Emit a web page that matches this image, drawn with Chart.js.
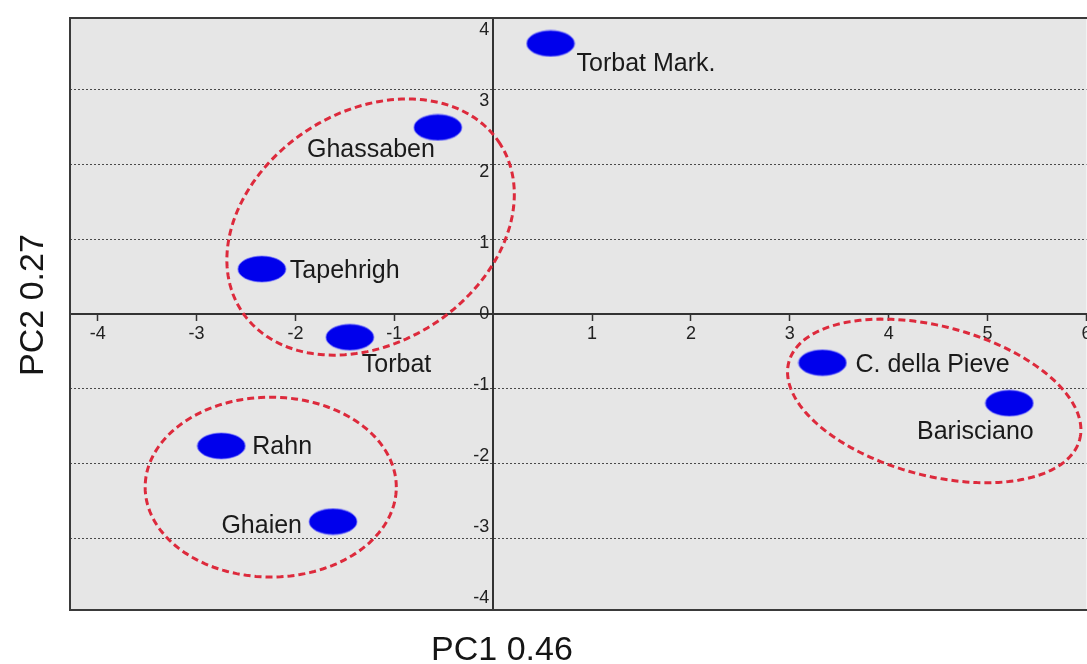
<!DOCTYPE html>
<html>
<head>
<meta charset="utf-8">
<script src="https://cdn.jsdelivr.net/npm/chart.js@4.4.1/dist/chart.umd.min.js"></script>
<style>
html,body{margin:0;padding:0;background:#ffffff;}
canvas{display:block;}
</style>
</head>
<body>
<canvas id="c" width="1087" height="664"></canvas>
<script>
// ---- data ----
const categories = ['Torbat Mark.', 'Ghassaben', 'Tapehrigh', 'Torbat', 'C. della Pieve', 'Barisciano', 'Rahn', 'Ghaien'];
const pc1Values = [0.58, -0.56, -2.34, -1.45, 3.33, 5.22, -2.75, -1.62];
const pc2Values = [3.61, 2.49, 0.60, -0.31, -0.65, -1.19, -1.76, -2.77];
const xTickValues = [-4, -3, -2, -1, 1, 2, 3, 4, 5, 6];
const yTickValues = [-4, -3, -2, -1, 0, 1, 2, 3, 4];
const yGridValues = [-3, -2, -1, 0, 1, 2, 3];
const xAxisTitle = 'PC1 0.46';
const yAxisTitle = 'PC2 0.27';
// group ellipses (data units): centre and two semi-axis vectors
const groupCenterX = [-1.24, -2.25, 4.46];
const groupCenterY = [1.16, -2.31, -1.16];
const groupAxisA = [[1.31, 1.11], [1.27, 0], [1.47, -0.52]];
const groupAxisB = [[-0.63, 1.30], [0, 1.20], [0.20, 0.96]];

// ---- styles ----
const FONT = '"Liberation Sans", Arial, sans-serif';
const labelPlacement = [
  {dx: 26, dy: 21, align: 'left'},
  {dx: -3, dy: 23, align: 'right'},
  {dx: 28, dy: 2, align: 'left'},
  {dx: 12, dy: 28, align: 'left'},
  {dx: 33, dy: 2, align: 'left'},
  {dx: -34, dy: 29, align: 'center'},
  {dx: 31, dy: 1, align: 'left'},
  {dx: -31, dy: 5, align: 'right'}
];

function makeMarker() {
  const cv = document.createElement('canvas');
  cv.width = 50; cv.height = 28;
  const g = cv.getContext('2d');
  g.beginPath();
  g.ellipse(25, 14, 24, 13, 0, 0, Math.PI * 2);
  g.fillStyle = '#0000ec';
  g.fill();
  g.lineWidth = 1;
  g.strokeStyle = 'rgba(110,110,255,0.7)';
  g.stroke();
  return cv;
}
const marker = makeMarker();

const zeroPadding = s => { s.paddingLeft = 0; s.paddingRight = 0; s.paddingTop = 0; s.paddingBottom = 0; };

const backgroundPlugin = {
  id: 'bg',
  beforeDraw(chart) {
    const {ctx, chartArea: a} = chart;
    ctx.save();
    ctx.fillStyle = '#ffffff';
    ctx.fillRect(0, 0, chart.width, chart.height);
    ctx.fillStyle = '#e6e6e6';
    ctx.fillRect(a.left, a.top, a.right - a.left, a.bottom - a.top);
    ctx.restore();
  },
  afterDraw(chart) {
    const {ctx, chartArea: a} = chart;
    ctx.save();
    ctx.strokeStyle = '#3a3a3a';
    ctx.lineWidth = 2;
    ctx.beginPath();
    ctx.moveTo(a.right + 2, a.top);
    ctx.lineTo(a.left, a.top);
    ctx.lineTo(a.left, a.bottom);
    ctx.lineTo(a.right + 2, a.bottom);
    ctx.stroke();
    // axis titles
    ctx.fillStyle = '#151515';
    ctx.font = '34px ' + FONT;
    ctx.textAlign = 'center';
    ctx.textBaseline = 'alphabetic';
    ctx.fillText(xAxisTitle, 502, 660);
    ctx.translate(43, 305);
    ctx.rotate(-Math.PI / 2);
    ctx.fillText(yAxisTitle, 0, 0);
    ctx.restore();
  }
};

const groupPlugin = {
  id: 'groups',
  beforeDatasetsDraw(chart) {
    const {ctx, chartArea: a} = chart;
    const xs = chart.scales.x, ys = chart.scales.y;
    ctx.save();
    ctx.beginPath();
    ctx.rect(a.left, a.top, a.right - a.left, a.bottom - a.top);
    ctx.clip();
    ctx.strokeStyle = '#dd2a3c';
    ctx.lineWidth = 3;
    ctx.setLineDash([7, 4]);
    for (let g = 0; g < groupCenterX.length; g++) {
      ctx.beginPath();
      const n = 160;
      for (let i = 0; i <= n; i++) {
        const t = i / n * Math.PI * 2;
        const vx = groupCenterX[g] + groupAxisA[g][0] * Math.cos(t) + groupAxisB[g][0] * Math.sin(t);
        const vy = groupCenterY[g] + groupAxisA[g][1] * Math.cos(t) + groupAxisB[g][1] * Math.sin(t);
        const px = xs.getPixelForValue(vx), py = ys.getPixelForValue(vy);
        if (i === 0) ctx.moveTo(px, py); else ctx.lineTo(px, py);
      }
      ctx.closePath();
      ctx.stroke();
    }
    ctx.restore();
  },
  afterDatasetsDraw(chart) {
    const {ctx} = chart;
    const meta = chart.getDatasetMeta(0);
    ctx.save();
    ctx.font = '25px ' + FONT;
    ctx.fillStyle = '#1a1a1a';
    ctx.textBaseline = 'middle';
    meta.data.forEach((pt, i) => {
      const p = labelPlacement[i];
      ctx.textAlign = p.align;
      ctx.fillText(categories[i], pt.x + p.dx, pt.y + p.dy);
    });
    ctx.restore();
  }
};

new Chart(document.getElementById('c'), {
  type: 'scatter',
  data: {
    datasets: [{
      data: pc1Values.map((v, i) => ({x: v, y: pc2Values[i]})),
      pointStyle: marker,
      pointRadius: 0.5,
      pointHoverRadius: 0.5,
      pointBorderWidth: 0,
      borderWidth: 0
    }]
  },
  options: {
    responsive: false,
    animation: false,
    devicePixelRatio: 1,
    layout: {padding: {left: 70, top: 18, right: 0, bottom: 54}},
    plugins: {legend: {display: false}, tooltip: {enabled: false}},
    scales: {
      x: {
        type: 'linear',
        position: {y: 0},
        min: -4.28,
        max: 6.0,
        afterBuildTicks: s => { s.ticks = xTickValues.map(v => ({value: v})); },
        afterFit: zeroPadding,
        ticks: {
          color: '#222',
          font: {family: FONT, size: 18},
          padding: 3,
          maxRotation: 0,
          autoSkip: false
        },
        grid: {
          display: true,
          drawOnChartArea: false,
          drawTicks: true,
          tickLength: 6,
          tickColor: '#333',
          tickWidth: 1.5
        },
        border: {display: true, color: '#333', width: 2}
      },
      y: {
        type: 'linear',
        position: {x: 0},
        min: -3.95,
        max: 3.95,
        afterBuildTicks: s => { s.ticks = yGridValues.map(v => ({value: v})); },
        afterFit: zeroPadding,
        ticks: {display: false},
        grid: {
          display: true,
          drawTicks: false,
          color: c => (c.tick && c.tick.value === 0) ? 'rgba(0,0,0,0)' : '#4a4a4a',
          lineWidth: 1
        },
        border: {display: true, color: '#333', width: 2, dash: [2, 2]}
      },
      y2: {
        type: 'linear',
        axis: 'y',
        position: {x: -0.04},
        min: -4.17,
        max: 4.17,
        afterBuildTicks: s => { s.ticks = yTickValues.map(v => ({value: v})); },
        afterFit: zeroPadding,
        ticks: {
          color: '#222',
          font: {family: FONT, size: 18},
          autoSkip: false
        },
        grid: {display: false, drawTicks: false},
        border: {display: false}
      }
    }
  },
  plugins: [backgroundPlugin, groupPlugin]
});
</script>
</body>
</html>
